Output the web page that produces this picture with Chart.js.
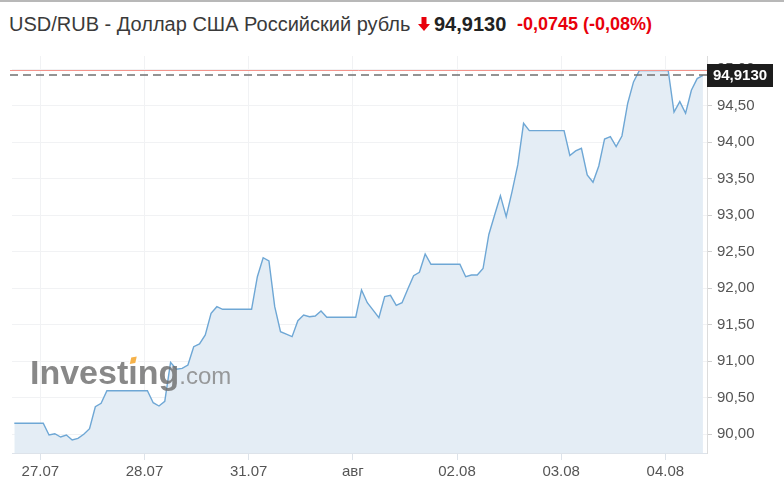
<!DOCTYPE html>
<html>
<head>
<meta charset="utf-8">
<script src="https://cdn.jsdelivr.net/npm/chart.js@4.4.0/dist/chart.umd.min.js"></script>
<style>
  html, body { margin: 0; padding: 0; background: #fff; }
  #wrap { position: relative; width: 784px; height: 500px; overflow: hidden; font-family: "Liberation Sans", Arial, sans-serif; }
  #topline { position: absolute; left: 0; top: 0; width: 784px; height: 2px; background: #b8b8b8; }
  .hd { position: absolute; top: 12px; line-height: 24px; white-space: nowrap; }
  #name { left: 9px; font-size: 20px; color: #3a3a3a; }
  #arrow { position: absolute; left: 418px; top: 17px; }
  #price { left: 434px; font-size: 20px; font-weight: bold; color: #222; }
  #chg { left: 517px; font-size: 18px; font-weight: bold; color: #e8000b; }
  #chart { position: absolute; left: 0; top: 0; }
</style>
</head>
<body>
<div id="wrap">
  <div id="topline"></div>
  <div class="hd" id="name">USD/RUB - Доллар США Российский рубль</div>
  <svg id="arrow" width="12" height="15" viewBox="0 0 12 15">
    <rect x="3.5" y="0" width="5" height="8" fill="#e8000b"/>
    <polygon points="0,7 12,7 6,14" fill="#e8000b"/>
  </svg>
  <div class="hd" id="price">94,9130</div>
  <div class="hd" id="chg">-0,0745 (-0,08%)</div>
  <canvas id="chart" width="784" height="500"></canvas>
</div>
<script>
// Котировки USD/RUB (шаг ~80 мин, выходные пропущены)
const prices = [
  90.147, 90.147, 90.147, 90.147, 90.147, 90.147,
  89.986, 90.004, 89.959, 89.986, 89.918, 89.941, 89.996, 90.073, 90.374, 90.421, 90.593,
  90.593, 90.593, 90.593, 90.593, 90.593, 90.593, 90.593,
  90.429, 90.384, 90.448, 90.983, 90.887, 90.900, 90.946, 91.197, 91.234, 91.357, 91.654, 91.745,
  91.709, 91.709, 91.709, 91.709, 91.709, 91.709,
  92.156, 92.416, 92.371, 91.745, 91.402, 91.368, 91.334, 91.553, 91.631, 91.608, 91.617, 91.686,
  91.600, 91.600, 91.600, 91.600, 91.600, 91.600,
  91.974, 91.800, 91.697, 91.594, 91.882, 91.901, 91.764, 91.800, 91.987, 92.170, 92.216, 92.467,
  92.326, 92.326, 92.326, 92.326, 92.326, 92.326,
  92.156, 92.179, 92.179, 92.268, 92.734, 93.002, 93.266, 92.978, 93.317, 93.687, 94.258,
  94.157, 94.157, 94.157, 94.157, 94.157, 94.157, 94.157,
  93.817, 93.879, 93.916, 93.550, 93.450, 93.673, 94.043, 94.075, 93.938, 94.084, 94.533, 94.825,
  94.980, 94.980, 94.980, 94.980, 94.980, 94.980,
  94.413, 94.555, 94.396, 94.711, 94.870, 94.913
];

// Подписи дней и индекс точки, с которой начинается день
const dayLabels = ['27.07', '28.07', '31.07', 'авг', '02.08', '03.08', '04.08'];
const dayStart = [4.5, 22.5, 40.5, 58.5, 76.5, 94.5, 112.5];

const lastPrice = 94.913;
const prevClose = 94.9875;

const fmt = v => v.toFixed(2).replace('.', ',');

// Водяной знак, линии текущей цены и закрытия
const overlay = {
  id: 'overlay',
  afterDatasetsDraw(chart) {
    const ctx = chart.ctx;
    ctx.save();
    ctx.globalAlpha = 0.82;
    ctx.textBaseline = 'alphabetic';
    ctx.font = 'bold 34px "Liberation Sans", Arial';
    ctx.fillStyle = '#6e6e6e';
    ctx.fillText('Investing', 30, 384);
    const w = ctx.measureText('Investing').width;
    const wi = ctx.measureText('Invest').width;
    // оранжевая точка над "i"
    ctx.globalAlpha = 1;
    ctx.fillStyle = '#fff';
    ctx.fillRect(30 + wi + 1, 357, 9, 8);
    ctx.fillStyle = '#f6b24a';
    ctx.beginPath();
    ctx.moveTo(30 + wi + 1.5, 364);
    ctx.lineTo(30 + wi + 7, 363);
    ctx.lineTo(30 + wi + 8.5, 356.5);
    ctx.lineTo(30 + wi + 3, 357.5);
    ctx.closePath();
    ctx.fill();
    ctx.globalAlpha = 0.82;
    ctx.font = '24px "Liberation Sans", Arial';
    ctx.fillStyle = '#858585';
    ctx.fillText('.com', 30 + w, 384);
    ctx.restore();
  },
  afterDraw(chart) {
    const ctx = chart.ctx;
    const y = chart.scales.y;
    const area = chart.chartArea;
    ctx.save();
    const yc = Math.round(y.getPixelForValue(prevClose)) + 0.5;
    ctx.strokeStyle = '#f3948c';
    ctx.lineWidth = 1;
    ctx.beginPath();
    ctx.moveTo(area.left - 2, yc);
    ctx.lineTo(area.right, yc);
    ctx.stroke();

    const yl = Math.round(y.getPixelForValue(lastPrice));
    ctx.strokeStyle = '#707070';
    ctx.lineWidth = 1.5;
    ctx.setLineDash([8, 5]);
    ctx.beginPath();
    ctx.moveTo(area.left - 2, yl);
    ctx.lineTo(area.right, yl);
    ctx.stroke();
    ctx.setLineDash([]);

    ctx.fillStyle = '#1d1d1d';
    ctx.fillRect(area.right, yl - 11, 66, 23);
    ctx.fillStyle = '#fff';
    ctx.font = 'bold 15px "Liberation Sans", Arial';
    ctx.textAlign = 'center';
    ctx.textBaseline = 'middle';
    ctx.fillText(lastPrice.toFixed(4).replace('.', ','), area.right + 33, yl + 1);
    ctx.restore();
  }
};

new Chart(document.getElementById('chart'), {
  type: 'line',
  data: {
    datasets: [{
      data: prices.map((v, i) => ({ x: i, y: v })),
      borderColor: '#6ea7d5',
      borderWidth: 1.4,
      backgroundColor: '#e4edf5',
      fill: 'start',
      pointRadius: 0,
      tension: 0
    }]
  },
  options: {
    responsive: false,
    animation: false,
    layout: { padding: { left: 12, top: 56, right: 0, bottom: 0 } },
    plugins: { legend: { display: false }, tooltip: { enabled: false } },
    scales: {
      x: {
        type: 'linear',
        min: -0.4,
        max: 119.7,
        afterBuildTicks: s => { s.ticks = dayStart.map(v => ({ value: v })); },
        afterFit: s => { s.height = 47; },
        ticks: {
          autoSkip: false,
          maxRotation: 0,
          padding: 3,
          color: '#555',
          font: { family: '"Liberation Sans", Arial', size: 15 },
          callback: (v, i) => dayLabels[i]
        },
        grid: { color: '#f1f2f4', tickColor: '#dde3ea', tickLength: 7 },
        border: { color: '#dde3ea' }
      },
      y: {
        position: 'right',
        min: 89.74,
        max: 95.18,
        afterFit: s => { s.width = 77; },
        ticks: {
          stepSize: 0.5,
          includeBounds: false,
          padding: 5,
          color: '#555',
          font: { family: '"Liberation Sans", Arial', size: 15 },
          callback: v => fmt(v)
        },
        grid: { color: '#f1f2f4', tickColor: '#cfcfcf', tickLength: 5 },
        border: { color: '#dcdcdc' }
      }
    }
  },
  plugins: [overlay]
});
</script>
</body>
</html>
